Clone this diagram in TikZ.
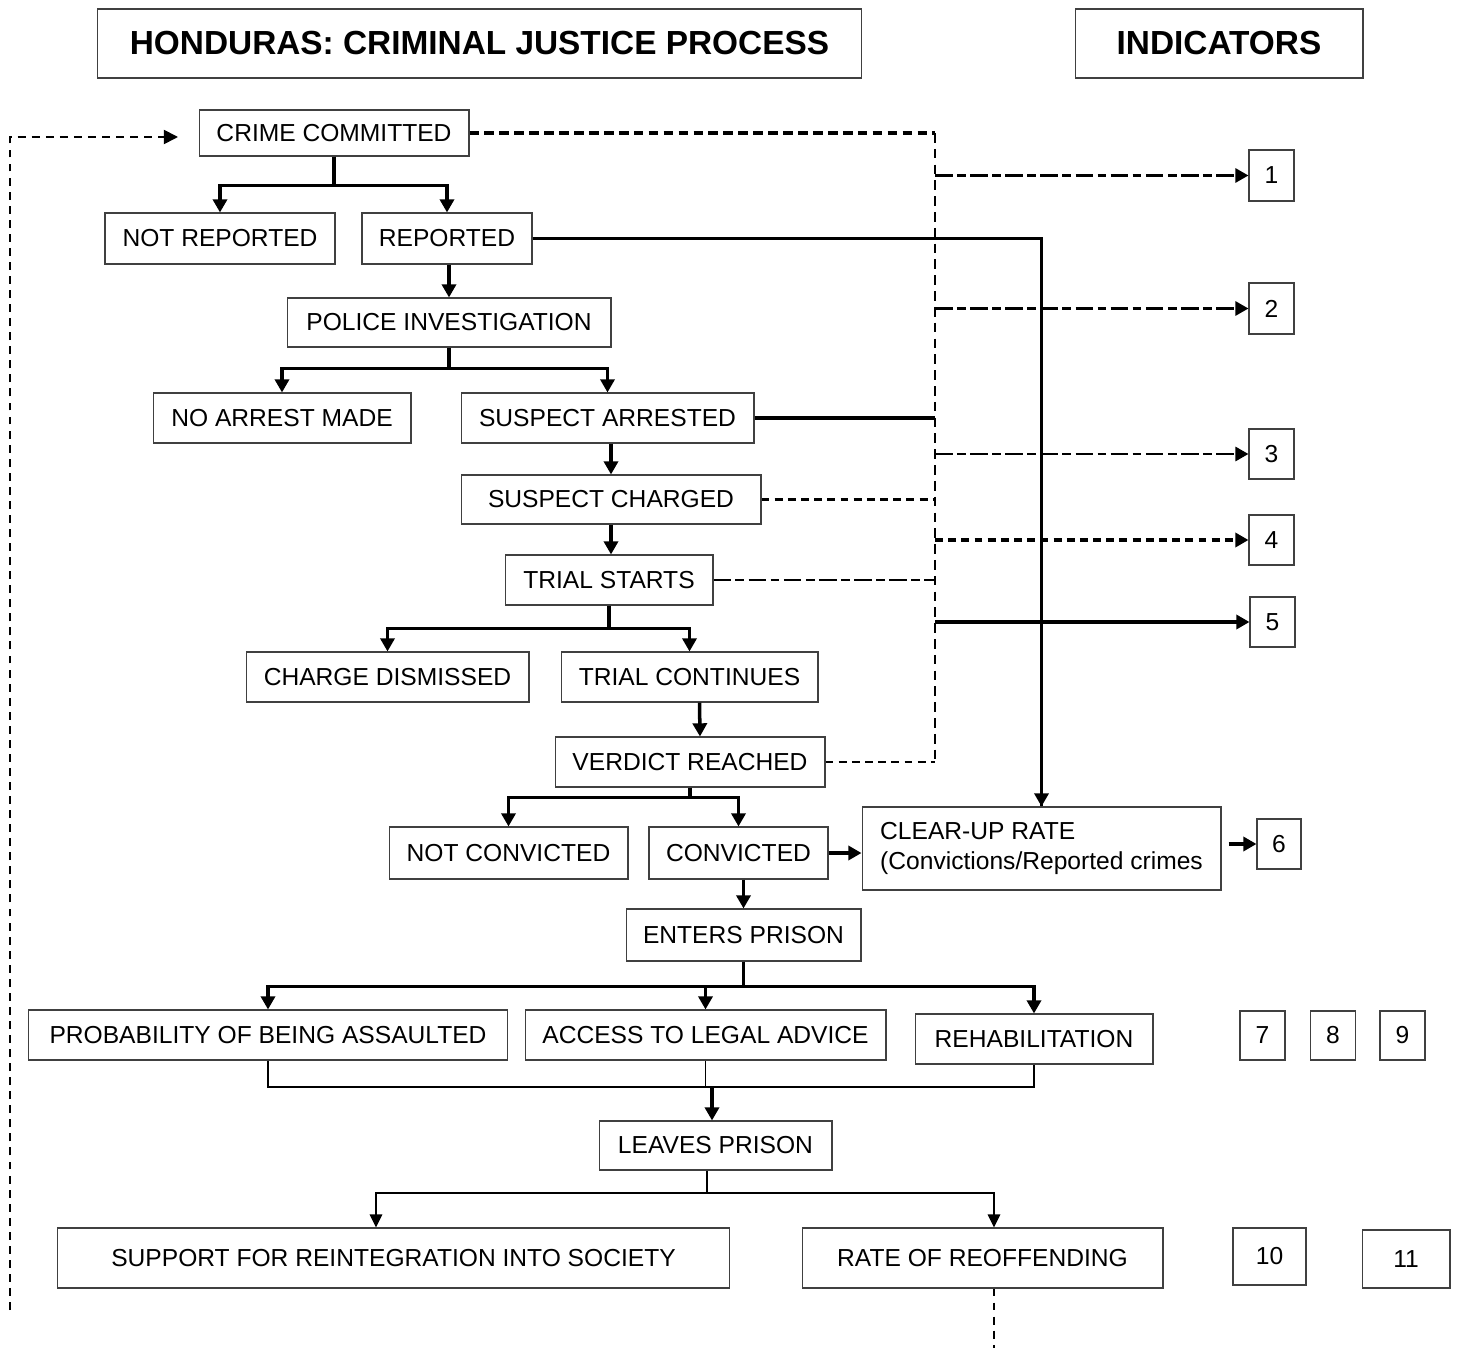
\documentclass[tikz,border=0pt]{standalone}
\usepackage{fontspec}
\setmainfont{Liberation Sans}
\usetikzlibrary{arrows.meta,positioning}
\definecolor{ink}{HTML}{000000}
\definecolor{frame}{HTML}{404040}

\begin{document}
\begin{tikzpicture}[
  x=0.02cm, y=-0.02cm,
  font=\fontsize{14}{17}\selectfont,
  text=ink,
  box/.style={
    draw=frame,
    line width=0.6pt,
    inner sep=0pt,
    align=center,
    minimum height=1.0cm
  },
  titlebox/.style={box, font=\fontsize{19}{22}\selectfont\bfseries, minimum height=1.38cm},
  numbox/.style={box, minimum width=0.9cm},
  flow/.style={-{Triangle[length=7.5pt,width=8pt]}, line width=2pt, draw=ink},
  midflow/.style={-{Triangle[length=7.5pt,width=7pt]}, line width=1.3pt, draw=ink},
  link/.style={line width=2pt, draw=ink},
  thinlink/.style={line width=0.7pt, draw=ink},
  busline/.style={line width=1.5pt, draw=ink, dash pattern=on 5.5pt off 3.5pt},
  crimeline/.style={line width=2pt, draw=ink, dash pattern=on 5.5pt off 3pt},
  dashlink/.style={line width=1.2pt, draw=ink, dash pattern=on 4.5pt off 3pt},
  dotdash/.style={line width=1.7pt, draw=ink, dash pattern=on 10pt off 2.5pt on 5pt off 2.5pt},
  dotdashflow/.style={dotdash, -{Triangle[length=7.5pt,width=8pt]}},
  dashflow/.style={line width=2pt, draw=ink, dash pattern=on 4.5pt off 3pt, -{Triangle[length=7.5pt,width=8pt]}},
  loopline/.style={line width=1pt, draw=ink, dash pattern=on 4.5pt off 3.5pt, -{Triangle[length=8pt,width=8pt]}},
  tailline/.style={line width=0.7pt, draw=ink, dash pattern=on 4.5pt off 3.5pt}
]
\useasboundingbox (0,0) rectangle (1460,1358);

% Headings
\node[titlebox, minimum width=15.3cm] (title) at (479.5,43.5) {HONDURAS: CRIMINAL JUSTICE PROCESS};
\node[titlebox, minimum width=5.76cm] (indhead) at (1219,43.5) {INDICATORS};

% Process chain
\node[box, minimum width=5.4cm, minimum height=0.92cm] (crime) at (334,133) {CRIME COMMITTED};
\node[box, minimum width=4.6cm, minimum height=1.02cm] (notrep) at (220,238.5) {NOT REPORTED};
\node[box, minimum width=3.4cm, minimum height=1.02cm] (reported) at (447,238.5) {REPORTED};
\node[box, minimum width=6.48cm, minimum height=0.98cm] (police) at (449,322.5) {POLICE INVESTIGATION};
\node[box, minimum width=5.16cm] (noarrest) at (282,418) {NO ARREST MADE};
\node[box, minimum width=5.86cm] (arrested) at (607.5,418) {SUSPECT ARRESTED};
\node[box, minimum width=6.0cm, minimum height=0.98cm] (charged) at (611,499.5) {SUSPECT CHARGED};
\node[box, minimum width=4.16cm] (trial) at (609,580) {TRIAL STARTS};
\node[box, minimum width=5.66cm] (dismissed) at (387.5,677) {CHARGE DISMISSED};
\node[box, minimum width=5.14cm] (continues) at (689.5,677) {TRIAL CONTINUES};
\node[box, minimum width=5.4cm] (verdict) at (690,762) {VERDICT REACHED};
\node[box, minimum width=4.78cm, minimum height=1.04cm] (notconv) at (508.5,853) {NOT CONVICTED};
\node[box, minimum width=3.58cm, minimum height=1.04cm] (convicted) at (738.5,853) {CONVICTED};
\node[box, minimum width=7.18cm, minimum height=1.66cm, align=left] (clearup) at (1041.5,848.5) {CLEAR-UP RATE\\(Convictions/Reported crimes};
\node[box, minimum width=4.7cm, minimum height=1.04cm] (enters) at (743.5,935) {ENTERS PRISON};
\node[box, minimum width=9.6cm] (assault) at (268,1035) {PROBABILITY OF BEING ASSAULTED};
\node[box, minimum width=7.22cm] (legal) at (705.5,1035) {ACCESS TO LEGAL ADVICE};
\node[box, minimum width=4.76cm] (rehab) at (1034,1039) {REHABILITATION};
\node[box, minimum width=4.66cm, minimum height=0.98cm] (leaves) at (715.5,1145.5) {LEAVES PRISON};
\node[box, minimum width=13.46cm, minimum height=1.2cm] (support) at (393.5,1258) {SUPPORT FOR REINTEGRATION INTO SOCIETY};
\node[box, minimum width=7.22cm, minimum height=1.2cm] (reoffend) at (982.5,1258) {RATE OF REOFFENDING};

% Indicator boxes
\node[numbox, minimum height=1.02cm] (ind1) at (1271.5,175.5) {1};
\node[numbox, minimum height=1.02cm] (ind2) at (1271.5,308.5) {2};
\node[numbox] (ind3) at (1271.5,454) {3};
\node[numbox] (ind4) at (1271.5,540) {4};
\node[numbox] (ind5) at (1272.5,622) {5};
\node[numbox, minimum width=0.88cm] (ind6) at (1279,844) {6};
\node[numbox, minimum height=0.98cm] (ind7) at (1262.5,1035.5) {7};
\node[numbox, minimum height=0.98cm] (ind8) at (1333,1035.5) {8};
\node[numbox, minimum height=0.98cm] (ind9) at (1402.5,1035.5) {9};
\node[numbox, minimum width=1.46cm, minimum height=1.14cm] (ind10) at (1269.5,1256.5) {10};
\node[numbox, minimum width=1.76cm, minimum height=1.16cm] (ind11) at (1406,1259) {11};

% Branches down the chain
\draw[flow] (crime.south) -- ++(0,29) -| (notrep.north);
\draw[flow] (crime.south) -- ++(0,29) -| (reported.north);
\draw[flow] (reported.south -| police.north) -- (police.north);
\draw[flow] (police.south) -- ++(0,21) -| (noarrest.north);
\draw[flow] (police.south) -- ++(0,21) -| (arrested.north);
\draw[flow] (charged.north |- arrested.south) -- (charged.north);
\draw[flow] (charged.south) -- (charged.south |- trial.north);
\draw[flow] (trial.south) -- ++(0,23) -| (dismissed.north);
\draw[flow] (trial.south) -- ++(0,23) -| (continues.north);
\draw[flow] ([xshift=0.2cm]continues.south) -- ([xshift=0.2cm]verdict.north);
\draw[flow] (verdict.south) -- ++(0,10) -| (notconv.north);
\draw[flow] (verdict.south) -- ++(0,10) -| (convicted.north);
\draw[flow] (enters.north |- convicted.south) -- (enters.north);
\draw[flow] (convicted.east) -- (convicted.east -| clearup.west);
\draw[flow, shorten <=0.14cm] (ind6.west -| clearup.east) -- (ind6.west);
\draw[flow] (enters.south) -- ++(0,25) -| (assault.north);
\draw[flow] (enters.south) -- ++(0,25) -| (legal.north);
\draw[flow] (enters.south) -- ++(0,25) -| (rehab.north);

% Prison stay to release
\coordinate (join) at (712,1087);
\draw[thinlink] (assault.south) |- (join) -| (rehab.south);
\draw[thinlink] (legal.south) -- (legal.south |- join);
\draw[flow] (join) -- (join |- leaves.north);
\coordinate (split) at (707,1193);
\draw[midflow] (split |- leaves.south) -- (split) -| ([xshift=-0.35cm]support.north);
\draw[midflow] (split) -| ([xshift=0.23cm]reoffend.north);

% Feeds to the indicators
\coordinate (bus) at (935,131);
\draw[crimeline] (crime.east) -- (crime.east -| bus);
\draw[busline] (crime.east -| bus) -- (verdict.east -| bus);
\draw[dashlink, line width=1.7pt] (verdict.east) -- (verdict.east -| bus);
\draw[link] (reported.east) -| (clearup.north);
\draw[flow] (reported.east -| clearup.north) -- (clearup.north);
\draw[link] (arrested.east) -- (arrested.east -| bus);
\draw[dashlink] (charged.east) -- (charged.east -| bus);
\draw[dotdash, line width=1.4pt] (trial.east) -- (trial.east -| bus);
\draw[dotdashflow] (ind1.west -| bus) -- (ind1.west);
\draw[dotdashflow] (ind2.west -| bus) -- (ind2.west);
\draw[dotdashflow] (ind3.west -| bus) -- (ind3.west);
\draw[dashflow] (ind4.west -| bus) -- (ind4.west);
\draw[flow] (ind5.west -| bus) -- (ind5.west);

% Reoffending loop back to crime
\coordinate (loopstart) at (10,1310);
\coordinate (loopend) at (178,137);
\draw[loopline] (loopstart) |- (loopend);
\coordinate (tailend) at (994,1348);
\draw[tailline] (reoffend.south -| tailend) -- (tailend);

\end{tikzpicture}
\end{document}
